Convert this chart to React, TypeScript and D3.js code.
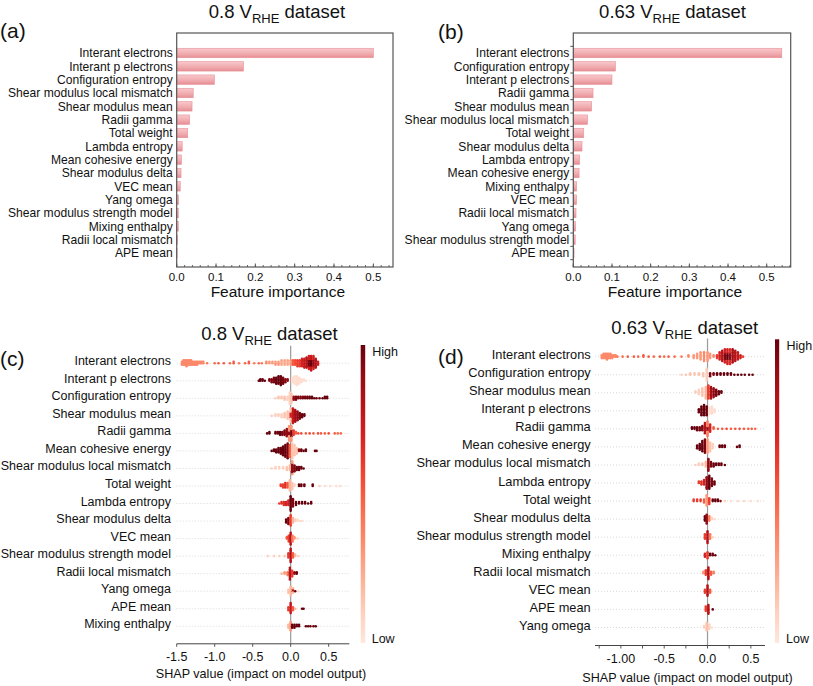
import React from 'react';
import * as d3 from 'd3';

const FONT = "'Liberation Sans', Arial, Helvetica, sans-serif";

// ---------- (a) 0.8 V bar chart ----------
const featuresA = [
  'Interant electrons', 'Interant p electrons', 'Configuration entropy', 'Shear modulus local mismatch',
  'Shear modulus mean', 'Radii gamma', 'Total weight', 'Lambda entropy', 'Mean cohesive energy',
  'Shear modulus delta', 'VEC mean', 'Yang omega', 'Shear modulus strength model', 'Mixing enthalpy',
  'Radii local mismatch', 'APE mean',
];
const importanceA = [0.5, 0.17, 0.096, 0.042, 0.039, 0.033, 0.028, 0.014, 0.012, 0.011, 0.009, 0.005, 0.004, 0.004, 0.002, 0.001];

// ---------- (b) 0.63 V bar chart ----------
const featuresB = [
  'Interant electrons', 'Configuration entropy', 'Interant p electrons', 'Radii gamma', 'Shear modulus mean',
  'Shear modulus local mismatch', 'Total weight', 'Shear modulus delta', 'Lambda entropy', 'Mean cohesive energy',
  'Mixing enthalpy', 'VEC mean', 'Radii local mismatch', 'Yang omega', 'Shear modulus strength model', 'APE mean',
];
const importanceB = [0.539, 0.109, 0.1, 0.051, 0.0475, 0.037, 0.027, 0.0225, 0.0165, 0.015, 0.0087, 0.0085, 0.007, 0.006, 0.005, 0.002];

const ticksAB = [0, 0.1, 0.2, 0.3, 0.4, 0.5];
const tickLabelsAB = ['0.0', '0.1', '0.2', '0.3', '0.4', '0.5'];

// ---------- (c) 0.8 V SHAP beeswarm ----------
const featuresC = [
  'Interant electrons', 'Interant p electrons', 'Configuration entropy', 'Shear modulus mean', 'Radii gamma',
  'Mean cohesive energy', 'Shear modulus local mismatch', 'Total weight', 'Lambda entropy', 'Shear modulus delta',
  'VEC mean', 'Shear modulus strength model', 'Radii local mismatch', 'Yang omega', 'APE mean', 'Mixing enthalpy',
];
// each cluster: [SHAP value, feature value (0 low .. 1 high), number of stacked points]
const swarmC: number[][][] = [
  [[-1.43, 0.35, 3], [-1.41, 0.35, 4], [-1.39, 0.35, 4], [-1.37, 0.35, 5], [-1.35, 0.35, 4], [-1.33, 0.35, 4], [-1.31, 0.35, 4], [-1.29, 0.35, 3],
    [-1.27, 0.35, 3], [-1.25, 0.35, 3], [-1.23, 0.35, 3], [-1.21, 0.35, 2], [-1.19, 0.35, 2], [-1.17, 0.35, 2], [-1.15, 0.35, 2],
    [-1.1, 0.4, 1], [-1.0, 0.45, 1], [-0.95, 0.5, 1], [-0.88, 0.5, 1], [-0.8, 0.45, 1], [-0.75, 0.5, 2], [-0.68, 0.4, 1], [-0.6, 0.45, 1],
    [-0.55, 0.5, 2], [-0.48, 0.4, 1], [-0.42, 0.45, 1], [-0.38, 0.4, 1], [-0.32, 0.35, 2], [-0.28, 0.3, 2], [-0.24, 0.3, 2], [-0.2, 0.3, 3],
    [-0.16, 0.3, 3], [-0.12, 0.25, 4], [-0.08, 0.25, 4], [-0.04, 0.25, 4], [0, 0.3, 4], [0.03, 0.5, 4], [0.06, 0.55, 4], [0.09, 0.6, 5],
    [0.12, 0.6, 5], [0.15, 0.7, 6], [0.18, 0.75, 7], [0.21, 0.8, 8], [0.24, 0.95, 5], [0.24, 0.7, 5], [0.27, 1, 5], [0.27, 0.75, 6],
    [0.3, 0.9, 5], [0.3, 0.7, 5], [0.33, 0.8, 7], [0.36, 0.7, 3]],
  [[-0.42, 1, 1], [-0.4, 1, 2], [-0.37, 1, 2], [-0.34, 1, 1], [-0.28, 0.95, 2], [-0.25, 0.95, 3], [-0.22, 0.95, 4], [-0.19, 1, 5],
    [-0.16, 1, 6], [-0.13, 1, 7], [-0.1, 0.95, 5], [-0.07, 0.95, 3], [-0.04, 0.9, 2], [0.02, 0.05, 4], [0.05, 0.05, 6], [0.08, 0.05, 7],
    [0.11, 0.05, 5], [0.14, 0.05, 3], [0.17, 0.05, 2], [0.2, 0.05, 1]],
  [[-0.2, 0.1, 1], [-0.16, 0.15, 2], [-0.12, 0.15, 2], [-0.08, 0.15, 3], [-0.04, 0.1, 3], [-0.01, 0.1, 9], [0.01, 0.15, 7], [0.04, 0.9, 3],
    [0.07, 0.95, 3], [0.1, 0.95, 2], [0.13, 0.95, 2], [0.16, 0.95, 2], [0.19, 0.95, 2], [0.22, 1, 2], [0.25, 1, 2], [0.28, 1, 2],
    [0.31, 1, 1], [0.34, 1, 1], [0.38, 1, 1], [0.42, 1, 1], [0.45, 1, 2], [0.48, 1, 2]],
  [[-0.25, 0.1, 1], [-0.2, 0.1, 2], [-0.16, 0.1, 2], [-0.12, 0.1, 3], [-0.08, 0.15, 4], [-0.04, 0.15, 6], [0, 0.7, 4], [0, 0.15, 6],
    [0.03, 0.75, 11], [0.06, 0.85, 9], [0.09, 0.9, 7], [0.12, 0.95, 5], [0.15, 1, 3], [0.18, 1, 2]],
  [[-0.31, 1, 1], [-0.28, 1, 2], [-0.2, 1, 2], [-0.17, 1, 2], [-0.14, 1, 3], [-0.11, 0.95, 3], [-0.08, 0.95, 4], [-0.05, 0.9, 6],
    [-0.02, 0.9, 3], [-0.02, 0.3, 8], [0.01, 0.95, 5], [0.01, 0.3, 6], [0.04, 0.6, 4], [0.07, 0.5, 2], [0.1, 0.55, 1], [0.14, 0.55, 1],
    [0.2, 0.5, 1], [0.25, 0.55, 1], [0.3, 0.5, 1], [0.36, 0.55, 1], [0.4, 0.5, 1], [0.45, 0.5, 1], [0.5, 0.55, 1], [0.58, 0.5, 1],
    [0.62, 0.45, 1], [0.66, 0.45, 1]],
  [[-0.25, 1, 1], [-0.22, 1, 2], [-0.19, 1, 3], [-0.16, 1, 4], [-0.13, 1, 5], [-0.1, 1, 7], [-0.07, 1, 9], [-0.04, 0.95, 11],
    [-0.01, 0.5, 9], [0.02, 0.15, 11], [0.05, 0.15, 8], [0.08, 0.15, 5], [0.11, 0.9, 2], [0.14, 1, 2], [0.17, 1, 1], [0.2, 1, 2],
    [0.32, 1, 1], [0.34, 1, 1]],
  [[-0.25, 0.1, 1], [-0.2, 0.1, 2], [-0.15, 0.1, 2], [-0.1, 0.1, 2], [-0.05, 0.15, 3], [-0.01, 0.2, 4], [0.02, 0.9, 7], [0.02, 0.3, 3],
    [0.05, 0.95, 5], [0.08, 1, 3], [0.11, 1, 3], [0.14, 1, 2], [0.17, 1, 1]],
  [[-0.13, 0.6, 2], [-0.1, 0.6, 3], [-0.07, 0.65, 4], [-0.04, 0.5, 4], [-0.01, 0.2, 8], [0.02, 0.15, 5], [0.05, 0.1, 2], [0.11, 1, 2],
    [0.14, 1, 2], [0.18, 1, 2], [0.29, 1, 2], [0.38, 0.1, 1], [0.45, 0.05, 1], [0.52, 0.05, 1], [0.6, 0.05, 1], [0.65, 0.05, 1]],
  [[-0.15, 0.6, 1], [-0.12, 0.65, 2], [-0.09, 0.65, 3], [-0.06, 0.7, 3], [-0.03, 0.7, 4], [0, 1, 11], [0.03, 0.95, 6], [0.07, 1, 3],
    [0.11, 1, 2], [0.15, 1, 2], [0.19, 1, 2], [0.23, 1, 1], [0.27, 1, 2]],
  [[-0.06, 1, 3], [-0.03, 0.95, 5], [0, 0.6, 8], [0.03, 0.2, 4], [0.06, 0.1, 2], [0.09, 0.05, 2], [0.12, 0.05, 1], [0.15, 0.05, 1]],
  [[-0.05, 0.5, 2], [-0.025, 0.6, 5], [0, 0.8, 9], [0.025, 0.4, 5], [0.05, 0.3, 2], [0.09, 0.1, 1]],
  [[-0.3, 0.1, 1], [-0.22, 0.1, 1], [-0.15, 0.1, 1], [-0.08, 0.15, 1], [-0.03, 0.6, 4], [0, 0.8, 10], [0.03, 0.5, 4], [0.06, 0.2, 2],
    [0.1, 0.1, 1]],
  [[-0.12, 0.2, 1], [-0.08, 0.3, 2], [-0.04, 0.4, 3], [-0.01, 0.8, 9], [0.02, 0.6, 5], [0.05, 0.9, 2], [0.08, 1, 2]],
  [[-0.03, 0.15, 3], [0, 0.2, 7], [0.03, 0.8, 2], [0.03, 0.2, 2], [0.06, 1, 1], [0.1, 0.05, 1]],
  [[-0.03, 0.6, 3], [0, 0.75, 8], [0.03, 0.5, 3], [0.06, 0.2, 1], [0.15, 1, 1], [0.17, 1, 1]],
  [[-0.03, 0.2, 3], [0, 0.3, 7], [0.02, 1, 3], [0.05, 1, 3], [0.08, 1, 2], [0.11, 1, 2], [0.2, 1, 1], [0.23, 1, 1],
    [0.26, 1, 1], [0.3, 1, 1], [0.33, 1, 1]],
];
const ticksC = [-1.5, -1.0, -0.5, 0, 0.5];
const tickLabelsC = ['-1.5', '-1.0', '-0.5', '0.0', '0.5'];

// ---------- (d) 0.63 V SHAP beeswarm ----------
const featuresD = [
  'Interant electrons', 'Configuration entropy', 'Shear modulus mean', 'Interant p electrons', 'Radii gamma',
  'Mean cohesive energy', 'Shear modulus local mismatch', 'Lambda entropy', 'Total weight', 'Shear modulus delta',
  'Shear modulus strength model', 'Mixing enthalpy', 'Radii local mismatch', 'VEC mean', 'APE mean', 'Yang omega',
];
const swarmD: number[][][] = [
  [[-1.22, 0.35, 3], [-1.2, 0.35, 4], [-1.18, 0.35, 4], [-1.16, 0.35, 5], [-1.14, 0.35, 4], [-1.12, 0.35, 4], [-1.1, 0.35, 3], [-1.08, 0.35, 2],
    [-1.06, 0.35, 2], [-1.04, 0.4, 1], [-0.98, 0.45, 1],
    [-0.92, 0.5, 1], [-0.85, 0.5, 1], [-0.8, 0.45, 1], [-0.74, 0.5, 2], [-0.68, 0.5, 1], [-0.62, 0.45, 1], [-0.55, 0.5, 1], [-0.5, 0.45, 1],
    [-0.45, 0.5, 1], [-0.38, 0.45, 1], [-0.3, 0.4, 1], [-0.22, 0.35, 2], [-0.16, 0.3, 3], [-0.12, 0.3, 4], [-0.08, 0.3, 6], [-0.04, 0.35, 7],
    [0, 0.3, 7], [0.03, 0.3, 4], [0.07, 0.35, 2], [0.11, 0.6, 3], [0.14, 0.7, 6], [0.17, 0.8, 8], [0.2, 0.95, 5], [0.2, 0.7, 5],
    [0.23, 1, 5], [0.23, 0.7, 6], [0.26, 0.9, 5], [0.26, 0.65, 6], [0.29, 0.85, 10], [0.32, 0.8, 8], [0.35, 0.75, 6], [0.38, 0.7, 3],
    [0.41, 0.6, 1]],
  [[-0.3, 0.1, 1], [-0.25, 0.15, 1], [-0.2, 0.15, 2], [-0.15, 0.15, 2], [-0.1, 0.15, 2], [-0.05, 0.15, 3], [-0.01, 0.1, 9], [0.03, 0.95, 3],
    [0.07, 0.95, 2], [0.11, 1, 2], [0.15, 1, 2], [0.19, 1, 2], [0.23, 1, 2], [0.27, 1, 2], [0.31, 1, 1], [0.35, 1, 1],
    [0.39, 1, 1], [0.43, 1, 1], [0.48, 1, 1], [0.52, 1, 1]],
  [[-0.14, 0.1, 2], [-0.1, 0.1, 4], [-0.06, 0.15, 6], [-0.02, 0.2, 9], [0.01, 0.6, 10], [0.04, 0.85, 9], [0.07, 0.9, 7], [0.1, 0.95, 5],
    [0.13, 1, 3], [0.16, 1, 2]],
  [[-0.1, 1, 3], [-0.07, 1, 7], [-0.04, 1, 8], [-0.01, 1, 7], [0.02, 0.05, 5], [0.05, 0.05, 6], [0.08, 0.05, 3]],
  [[-0.18, 1, 2], [-0.15, 1, 2], [-0.12, 1, 3], [-0.09, 0.95, 3], [-0.06, 0.95, 4], [-0.03, 0.8, 8], [0, 0.9, 3], [0, 0.4, 8],
    [0.03, 0.7, 6], [0.07, 0.5, 2], [0.12, 0.5, 1], [0.17, 0.5, 1], [0.22, 0.55, 1], [0.27, 0.5, 1], [0.32, 0.5, 1], [0.37, 0.55, 1],
    [0.42, 0.5, 1], [0.47, 0.5, 1], [0.51, 0.5, 1], [0.55, 0.45, 1]],
  [[-0.12, 1, 3], [-0.09, 1, 5], [-0.06, 1, 8], [-0.03, 0.95, 10], [0, 0.3, 10], [0.03, 0.15, 7], [0.06, 0.1, 4], [0.14, 1, 2],
    [0.17, 1, 2], [0.2, 1, 2], [0.34, 1, 1], [0.37, 1, 2]],
  [[-0.14, 0.1, 1], [-0.1, 0.1, 2], [-0.06, 0.15, 2], [-0.02, 0.2, 4], [0.01, 0.9, 9], [0.04, 0.95, 4], [0.07, 1, 3], [0.1, 1, 2],
    [0.13, 1, 2], [0.16, 1, 2], [0.2, 1, 1]],
  [[-0.1, 0.6, 2], [-0.07, 0.65, 3], [-0.04, 0.7, 4], [-0.01, 0.9, 9], [0.02, 1, 10], [0.05, 0.95, 6], [0.08, 1, 3]],
  [[-0.16, 0.6, 2], [-0.12, 0.6, 2], [-0.08, 0.6, 2], [-0.04, 0.5, 3], [-0.01, 0.3, 8], [0.02, 0.6, 5], [0.06, 1, 2], [0.09, 1, 2],
    [0.12, 1, 2], [0.15, 0.9, 1], [0.2, 0.1, 1], [0.27, 0.05, 1], [0.35, 0.05, 1], [0.42, 0.05, 1], [0.5, 0.05, 1], [0.58, 0.05, 1]],
  [[-0.03, 1, 4], [-0.01, 0.9, 7], [0.02, 0.4, 4], [0.05, 0.1, 2], [0.08, 0.05, 1]],
  [[-0.03, 0.6, 4], [0, 0.8, 9], [0.03, 0.4, 4], [0.06, 0.1, 1]],
  [[-0.03, 0.7, 3], [0, 0.6, 5], [0.03, 1, 2], [0.06, 1, 2], [0.09, 1, 1]],
  [[-0.05, 0.3, 2], [-0.02, 0.6, 4], [0.01, 0.8, 9], [0.04, 0.5, 3], [0.07, 0.4, 2]],
  [[-0.03, 0.6, 3], [0, 0.8, 8], [0.03, 0.5, 3]],
  [[-0.02, 0.6, 4], [0.01, 0.8, 7], [0.06, 1, 1]],
  [[-0.04, 0.1, 2], [-0.01, 0.15, 6], [0.02, 0.1, 4], [0.05, 0.05, 1]],
];
const ticksD = [-1.0, -0.5, 0, 0.5];
const tickLabelsD = ['-1.00', '-0.5', '0.0', '0.5'];
const minorTicksD = [-1.25, -0.75, -0.25, 0.25];

const reds = (c: number) => d3.interpolateReds(0.08 + 0.92 * c);

function Title({ x, y, v }: { x: number; y: number; v: string }) {
  return (
    <text x={x} y={y} textAnchor="middle" fontSize={18.5} fill="#111">
      {v} V<tspan fontSize={13} dy={5}>RHE</tspan>
      <tspan dy={-5}> dataset</tspan>
    </text>
  );
}

interface BarProps {
  left: number; right: number; top: number; bottom: number; xMax: number;
  features: string[]; values: number[]; gid: string; leftTicks: boolean;
}

function BarPanel({ left, right, top, bottom, xMax, features, values, gid, leftTicks }: BarProps) {
  const x = d3.scaleLinear().domain([0, xMax]).range([left, right]);
  const y = d3.scaleLinear().domain([-1.5, 16.05]).range([top, bottom]);
  const rowH = y(1) - y(0);
  const bh = rowH * 0.71;
  const minor = d3.range(0, xMax + 1e-9, 0.02);
  return (
    <g>
      <defs>
        <linearGradient id={gid} x1="0" y1="0" x2="0" y2="1">
          <stop offset="0" stopColor="#f8c8cb" />
          <stop offset="0.6" stopColor="#f0aaae" />
          <stop offset="1" stopColor="#e58c93" />
        </linearGradient>
      </defs>
      {values.map((v, i) => (
        <rect key={i} x={x(0)} y={y(i) - bh / 2} width={x(v) - x(0)} height={bh}
          fill={`url(#${gid})`} stroke="#e8939a" strokeWidth={0.6} />
      ))}
      {features.map((f, i) => (
        <text key={f} x={left - 4} y={y(i) + 4.3} textAnchor="end" fontSize={12.1} fill="#111">{f}</text>
      ))}
      <rect x={left} y={top} width={right - left} height={bottom - top} fill="none" stroke="#555" strokeWidth={1.2} />
      {minor.map((t, i) => (
        <line key={'m' + i} x1={x(t)} x2={x(t)} y1={bottom} y2={bottom - 2} stroke="#555" strokeWidth={0.9} />
      ))}
      {ticksAB.map((t, i) => (
        <g key={'t' + i}>
          <line x1={x(t)} x2={x(t)} y1={bottom} y2={bottom - 3.5} stroke="#555" strokeWidth={1} />
          <text x={x(t)} y={bottom + 13.5} textAnchor="middle" fontSize={11.5} fill="#111">{tickLabelsAB[i]}</text>
        </g>
      ))}
      {leftTicks && d3.range(0, 17).map((i) => (
        <line key={'l' + i} x1={left} x2={left - 3} y1={y(i - 0.5)} y2={y(i - 0.5)} stroke="#555" strokeWidth={1} />
      ))}
      <text x={(left + right) / 2 - 7} y={bottom + 29.5} textAnchor="middle" fontSize={15.5} fill="#111">Feature importance</text>
    </g>
  );
}

interface SwarmProps {
  domain: [number, number]; range: [number, number]; top: number; axisY: number;
  features: string[]; swarm: number[][][]; labelX: number; labelFont: number; labelDy: number;
  ticks: number[]; tickLabels: string[]; minorTicks: number[]; gid: string;
  cbX: number; cbTop: number; cbBottom: number; cbW: number; xLabelX: number; xLabelY: number;
}

function buildDots(row: number[][]) {
  const counts = new Map<string, number>();
  const out: { s: number; c: number; off: number }[] = [];
  row.forEach(([s, c, n]) => {
    const key = s.toFixed(3);
    let k = counts.get(key) ?? 0;
    for (let j = 0; j < n; j++, k++) {
      const off = k === 0 ? 0 : (k % 2 === 1 ? -1 : 1) * Math.ceil(k / 2);
      out.push({ s, c, off });
    }
    counts.set(key, k);
  });
  return out;
}

function SwarmPanel(p: SwarmProps) {
  const x = d3.scaleLinear().domain(p.domain).range(p.range);
  const y = d3.scaleLinear().domain([-1, 16]).range([p.top, p.axisY]);
  const step = 1.45;
  const r = 1.3;
  const stops = d3.range(0, 1.0001, 0.1);
  return (
    <g>
      <defs>
        <linearGradient id={p.gid} x1="0" y1="1" x2="0" y2="0">
          {stops.map((t, i) => <stop key={i} offset={t} stopColor={reds(t)} />)}
        </linearGradient>
      </defs>
      {p.features.map((f, i) => (
        <line key={'g' + i} x1={p.range[0]} x2={p.range[1]} y1={y(i)} y2={y(i)} stroke="#cfcfcf" strokeWidth={0.8} strokeDasharray="1 2" />
      ))}
      <line x1={x(0)} x2={x(0)} y1={p.top} y2={p.axisY} stroke="#9a9a9a" strokeWidth={1.2} />
      {p.swarm.map((row, i) => (
        <g key={'r' + i}>
          {buildDots(row).map((d, j) => (
            <circle key={j} cx={x(d.s)} cy={y(i) + d.off * step} r={r} fill={reds(d.c)} />
          ))}
        </g>
      ))}
      {p.features.map((f, i) => (
        <text key={f} x={p.labelX} y={y(i) + p.labelDy} textAnchor="end" fontSize={p.labelFont} fill="#111">{f}</text>
      ))}
      <line x1={p.range[0]} x2={p.range[1]} y1={p.axisY} y2={p.axisY} stroke="#444" strokeWidth={1} />
      {p.minorTicks.map((t, i) => (
        <line key={'mt' + i} x1={x(t)} x2={x(t)} y1={p.axisY} y2={p.axisY + 3} stroke="#444" strokeWidth={0.9} />
      ))}
      {p.ticks.map((t, i) => (
        <g key={'t' + i}>
          <line x1={x(t)} x2={x(t)} y1={p.axisY} y2={p.axisY + 3} stroke="#444" strokeWidth={0.9} />
          <text x={x(t)} y={p.axisY + 17.5} textAnchor="middle" fontSize={12.5} fill="#111">{p.tickLabels[i]}</text>
        </g>
      ))}
      <text x={p.xLabelX} y={p.xLabelY} textAnchor="middle" fontSize={12.6} fill="#111">SHAP value (impact on model output)</text>
      <rect x={p.cbX} y={p.cbTop} width={p.cbW} height={p.cbBottom - p.cbTop} fill={`url(#${p.gid})`} />
      <text x={p.cbX + 11.5} y={p.cbTop + 10.5} fontSize={12.5} fill="#111">High</text>
      <text x={p.cbX + 11} y={p.cbBottom} fontSize={12.5} fill="#111">Low</text>
    </g>
  );
}

export default function App() {
  return (
    <svg width={813} height={686} viewBox="0 0 813 686"
      style={{ position: 'absolute', left: 0, top: 0, background: '#fff', fontFamily: FONT }}>
      <rect x={0} y={0} width={813} height={686} fill="#fff" />
      <text x={0} y={37.5} fontSize={21} fill="#111">(a)</text>
      <text x={438} y={39} fontSize={21} fill="#111">(b)</text>
      <text x={0} y={365.5} fontSize={21} fill="#111">(c)</text>
      <text x={438} y={364} fontSize={21} fill="#111">(d)</text>
      <Title x={277} y={17.5} v="0.8" />
      <Title x={672.5} y={17.5} v="0.63" />
      <Title x={269.5} y={340} v="0.8" />
      <Title x={684.7} y={334} v="0.63" />
      <BarPanel left={176.7} right={393} top={33} bottom={267} xMax={0.55}
        features={featuresA} values={importanceA} gid="barA" leftTicks={false} />
      <BarPanel left={573.3} right={790.7} top={33} bottom={267} xMax={0.562}
        features={featuresB} values={importanceB} gid="barB" leftTicks={true} />
      <SwarmPanel domain={[-1.5, 0.7717]} range={[176.7, 349.3]} top={345.7} axisY={643.8}
        features={featuresC} swarm={swarmC} labelX={171} labelFont={12.5} labelDy={2}
        ticks={ticksC} tickLabels={tickLabelsC} minorTicks={[]} gid="cbC"
        cbX={360.7} cbTop={345} cbBottom={643} cbW={4.5} xLabelX={261} xLabelY={678} />
      <SwarmPanel domain={[-1.2985, 0.6633]} range={[595, 765]} top={338.6} axisY={645.5}
        features={featuresD} swarm={swarmD} labelX={590.7} labelFont={12.8} labelDy={2.5}
        ticks={ticksD} tickLabels={tickLabelsD} minorTicks={minorTicksD} gid="cbD"
        cbX={775} cbTop={339.3} cbBottom={643} cbW={4.2} xLabelX={687.5} xLabelY={681.7} />
    </svg>
  );
}
